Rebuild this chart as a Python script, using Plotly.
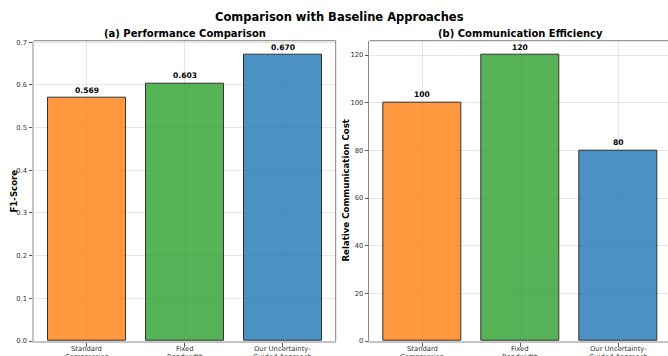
import plotly.graph_objects as go

categories = ["Standard<br>Compression", "Fixed<br>Bandwidth", "Our Uncertainty-<br>Guided Approach"]
f1_scores = [0.569, 0.603, 0.670]
comm_costs = [100, 120, 80]
f1_labels = ["0.569", "0.603", "0.670"]
cost_labels = ["100", "120", "80"]
colors = ["#ff7f0e", "#2ca02c", "#1f77b4"]

W, H = 668, 356
FONT = "DejaVu Sans"

def px_x(p):
    return p / W

def px_y(p):
    return 1 - p / H

fig = go.Figure()
idx = list(range(len(categories)))

fig.add_trace(go.Bar(x=idx, y=f1_scores, width=0.8, xaxis="x", yaxis="y",
                     marker=dict(color=colors, opacity=0.8, line=dict(color="black", width=1)),
                     showlegend=False, hoverinfo="skip"))
fig.add_trace(go.Bar(x=idx, y=comm_costs, width=0.8, xaxis="x2", yaxis="y2",
                     marker=dict(color=colors, opacity=0.8, line=dict(color="black", width=1)),
                     showlegend=False, hoverinfo="skip"))

tickfont = dict(family=FONT, size=6.8, color="#333333")
grid = "rgba(200,200,200,0.45)"

y_dom = [px_y(341), px_y(40.7)]
common = dict(showgrid=True, gridcolor=grid, gridwidth=1, ticks="outside", ticklen=3.5,
              tickcolor="#555555", zeroline=False, automargin=False, tickfont=tickfont)
fig.update_layout(
    width=W, height=H, margin=dict(l=0, r=0, t=0, b=0, autoexpand=False),
    paper_bgcolor="white", plot_bgcolor="white",
    font=dict(family=FONT),
    bargap=0,
    xaxis=dict(domain=[px_x(34), px_x(335.7)], range=[-0.54, 2.54],
               tickvals=idx, showticklabels=False,
               showline=True, linecolor="#c4c4c4", linewidth=2, **common),
    yaxis=dict(domain=y_dom, range=[0, 0.7035], dtick=0.1, tickformat=".1f",
               showline=True, linecolor="#c4c4c4", linewidth=2, **common),
    xaxis2=dict(domain=[px_x(369.3), 1.0], range=[-0.54, -0.54 + (W - 369.3) / 97.95],
                tickvals=idx, showticklabels=False,
                showline=True, linecolor="#c4c4c4", linewidth=2, anchor="y2", **common),
    yaxis2=dict(domain=y_dom, range=[0, 126], dtick=20,
                showline=True, linecolor="#888888", linewidth=1, anchor="x2", **common),
)

shapes = [
    dict(type="line", xref="x domain", yref="y domain", x0=0, x1=1, y0=1, y1=1,
         line=dict(color="#808080", width=1)),
    dict(type="line", xref="x domain", yref="y domain", x0=1, x1=1, y0=0, y1=1,
         line=dict(color="#808080", width=1)),
    dict(type="line", xref="x2 domain", yref="y2 domain", x0=0, x1=1, y0=1, y1=1,
         line=dict(color="#808080", width=1)),
]
fig.update_layout(shapes=shapes)

ann = []
for i, (v, t) in enumerate(zip(f1_scores, f1_labels)):
    ann.append(dict(x=i, y=v, xref="x", yref="y", text="<b>%s</b>" % t, showarrow=False,
                    yanchor="bottom", yshift=1.5, font=dict(family=FONT, size=7.6, color="black")))
for i, (v, t) in enumerate(zip(comm_costs, cost_labels)):
    ann.append(dict(x=i, y=v, xref="x2", yref="y2", text="<b>%s</b>" % t, showarrow=False,
                    yanchor="bottom", yshift=1.5, font=dict(family=FONT, size=7.6, color="black")))

# category tick labels (two lines each), placed under each axis
for xr in ("x", "x2"):
    for i, cat in enumerate(categories):
        lines = cat.split("<br>")
        for k, line in enumerate(lines):
            ann.append(dict(x=i, y=px_y(348.5 + 8.2 * k), xref=xr, yref="paper", text=line,
                            showarrow=False, xanchor="center", yanchor="middle",
                            font=tickfont))

ann.append(dict(x=px_x(339.5), y=px_y(17), xref="paper", yref="paper",
                text="<b>Comparison with Baseline Approaches</b>", showarrow=False,
                xanchor="center", yanchor="middle", font=dict(family=FONT, size=11.5, color="black")))
ann.append(dict(x=px_x(184.8), y=px_y(33.3), xref="paper", yref="paper",
                text="<b>(a) Performance Comparison</b>", showarrow=False,
                xanchor="center", yanchor="middle", font=dict(family=FONT, size=10, color="black")))
ann.append(dict(x=px_x(520), y=px_y(33.3), xref="paper", yref="paper",
                text="<b>(b) Communication Efficiency</b>", showarrow=False,
                xanchor="center", yanchor="middle", font=dict(family=FONT, size=10, color="black")))
ann.append(dict(x=px_x(13.5), y=px_y(191), xref="paper", yref="paper",
                text="<b>F1-Score</b>", showarrow=False, textangle=-90,
                xanchor="center", yanchor="middle", font=dict(family=FONT, size=8.6, color="black")))
ann.append(dict(x=px_x(345.5), y=px_y(191), xref="paper", yref="paper",
                text="<b>Relative Communication Cost</b>", showarrow=False, textangle=-90,
                xanchor="center", yanchor="middle", font=dict(family=FONT, size=8.6, color="black")))
fig.update_layout(annotations=ann)

fig.write_html("out.html")
